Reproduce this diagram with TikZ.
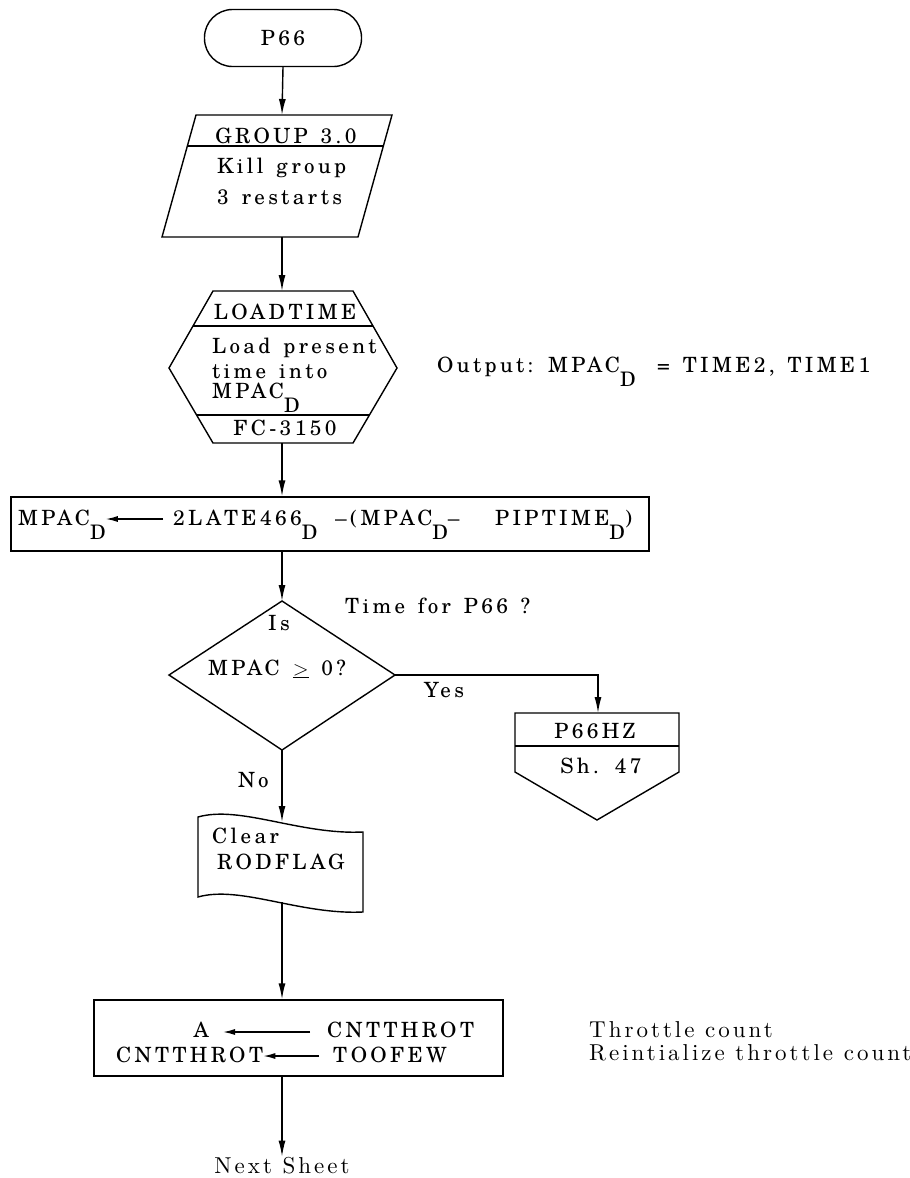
\documentclass[tikz,border=0pt]{standalone}
\usepackage{fontspec}
\usetikzlibrary{arrows.meta}

\newfontfamily\chartfont{texgyreschola-regular.otf}[LetterSpace=16, WordSpace=1.4]
\newfontfamily\notefont{lmroman10-regular.otf}[LetterSpace=13]
\newcommand{\dsub}{\raisebox{-14pt}{\fontsize{20}{20}\selectfont D}}

\tikzset{
    line/.style={line width=1.4pt},
    flow/.style={line, -{Latex[length=16pt,width=7pt]}},
    inflow/.style={line, -{Latex[length=12pt,width=6pt]}},
    lbl/.style={inner sep=0pt, font=\chartfont\fontsize{21}{25}\selectfont},
    note/.style={inner sep=0pt, font=\notefont\fontsize{23}{26}\selectfont},
}

\begin{document}
\begin{tikzpicture}[x=1pt, y=-1pt]
        \useasboundingbox (0,0) rectangle (910,1178);

        % entry
        \node[draw, line, rounded corners=28pt, minimum width=157pt, minimum height=57pt, lbl] (start) at (283,38) {P66};

        % GROUP 3.0
        \draw[line] (196,115) -- (392,115) -- (358,237) -- (162,237) -- cycle;
        \draw[line] (187,146) -- (383,146);
        \coordinate (grp-n) at (282,115);
        \coordinate (grp-s) at (282,237);
        \node[lbl, anchor=base] (grp-t) at (286,143) {GROUP 3.0};
        \node[lbl, anchor=base west] (grp-a) at (217,173) {Kill group};
        \node[lbl, anchor=base west] (grp-b) at (217,204) {3 restarts};

        % LOADTIME
        \draw[line] (213,291) -- (353,291) -- (397,368) -- (353,443) -- (213,443) -- (169,368) -- cycle;
        \draw[line] (193,326) -- (373,326);
        \draw[line] (197,415) -- (369,415);
        \coordinate (hex-n) at (282,291);
        \coordinate (hex-s) at (282,443);
        \node[lbl, anchor=base] (hex-t) at (285,319) {LOADTIME};
        \node[lbl, anchor=base west] (hex-a) at (212,353) {Load present};
        \node[lbl, anchor=base west] (hex-b) at (212,378) {time into};
        \node[lbl, anchor=base west] (hex-c) at (212,398) {MPAC\dsub};
        \node[lbl, anchor=base] (hex-f) at (285,435) {FC-3150};
        \node[lbl, anchor=base west] (out) at (437,372) {Output:};
        \node[lbl, anchor=base west] (out-a) at (548,372) {MPAC\dsub};
        \node[lbl, anchor=base west] (out-b) at (657,372) {= TIME2, TIME1};

        % time difference
        \node[draw, line, minimum width=638pt, minimum height=54pt] (calc) at (330,524) {};
        \node[lbl, anchor=base west] (m1) at (18,525) {MPAC\dsub};
        \node[lbl, anchor=base west] (m2) at (173,525) {2LATE466\dsub};
        \node[lbl, anchor=base west] (m3) at (335,525) {–(MPAC\dsub–};
        \node[lbl, anchor=base west] (m4) at (495,525) {PIPTIME\dsub)};
        \draw[inflow] ([shift={(-10pt,6pt)}]m2.base west) -- ([shift={(0pt,6pt)}]m1.base east);

        % test
        \coordinate (dec-n) at (282,601);
        \coordinate (dec-e) at (395,675);
        \coordinate (dec-s) at (282,750);
        \coordinate (dec-w) at (169,675);
        \draw[line] (dec-n) -- (dec-e) -- (dec-s) -- (dec-w) -- cycle;
        \node[lbl, anchor=base] (is) at (279,630) {Is};
        \node[lbl, anchor=base] (test) at (277,675) {MPAC $\underline{>}$ 0\,?};
        \node[lbl, anchor=base west] (why) at (345,613) {Time for P66 ?};
        \node[lbl, anchor=base west] (yes) at (424,697) {Yes};
        \node[lbl, anchor=base west] (no) at (238,787) {No};

        % off page P66HZ
        \draw[line] (515,713) -- (679,713) -- (679,772) -- (597,820) -- (515,772) -- cycle;
        \draw[line] (515,746) -- (679,746);
        \coordinate (pz-n) at (598,713);
        \node[lbl, anchor=base] (pz-t) at (595,738) {P66HZ};
        \node[lbl, anchor=base] (pz-b) at (601,773) {Sh. 47};

        % RODFLAG
        \draw[line] (198,817) .. controls (240,805) and (300,835) .. (363,832) -- (363,912)
            .. controls (300,915) and (240,885) .. (198,897) -- cycle;
        \coordinate (doc-n) at (282,822);
        \coordinate (doc-s) at (282,902);
        \node[lbl, anchor=base west] (doc-a) at (212,843) {Clear};
        \node[lbl, anchor=base west] (doc-b) at (217,869) {RODFLAG};

        % throttle counter
        \node[draw, line, minimum width=409pt, minimum height=76pt] (thr) at (298.5,1038) {};
        \node[lbl, anchor=base east] (a) at (209,1037) {A};
        \node[lbl, anchor=base west] (cnt) at (327,1037) {CNTTHROT};
        \node[lbl, anchor=base west] (cnt2) at (116,1062) {CNTTHROT};
        \node[lbl, anchor=base west] (few) at (333,1062) {TOOFEW};
        \draw[inflow] ([shift={(-17pt,5pt)}]cnt.base west) -- ([shift={(14pt,5pt)}]a.base east);
        \draw[inflow] ([shift={(-14pt,6pt)}]few.base west) -- ([shift={(0pt,6pt)}]cnt2.base east);
        \node[note, anchor=base west] (n1) at (589,1037) {Throttle count};
        \node[note, anchor=base west] (n2) at (589,1060) {Reintialize throttle count};
        \node[note, anchor=base] (next) at (282,1173) {Next Sheet};

        \draw[flow] (start.south) -- (grp-n);
        \draw[flow] (grp-s) -- (hex-n);
        \draw[flow] (hex-s) -- (hex-s |- calc.north);
        \draw[flow] (calc.south -| dec-n) -- (dec-n);
        \draw[flow] (dec-e) -| (pz-n);
        \draw[flow] (dec-s) -- (doc-n);
        \draw[flow] (doc-s) -- (doc-s |- thr.north);
        \draw[flow] (thr.south -| doc-s) -- (next.north);
\end{tikzpicture}
\end{document}
